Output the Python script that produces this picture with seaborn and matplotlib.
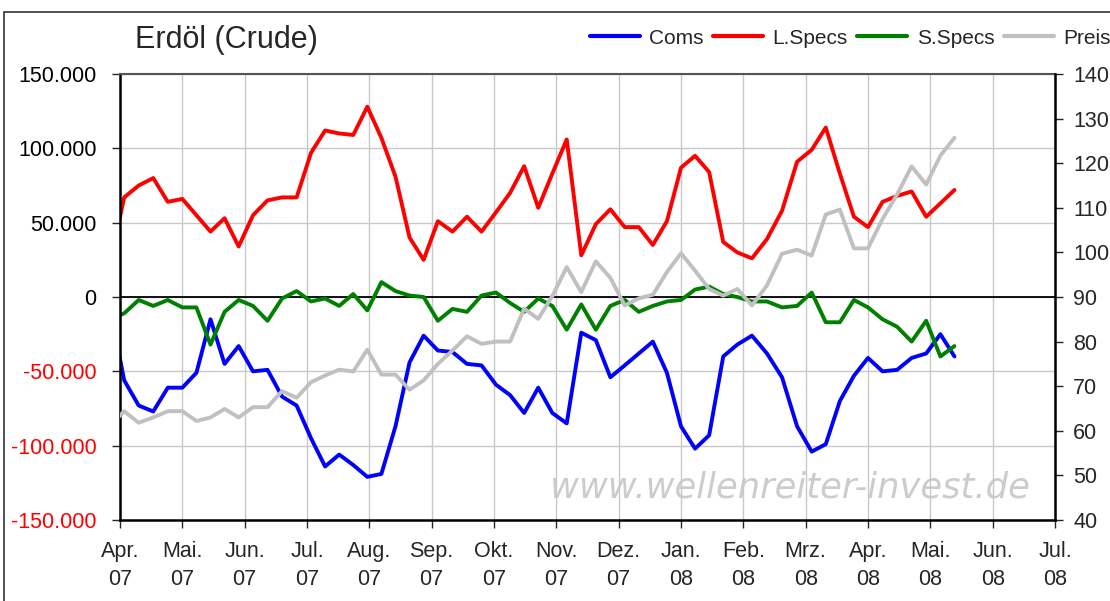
import numpy as np
import pandas as pd
import matplotlib
matplotlib.use("Agg")
import matplotlib.pyplot as plt
import seaborn as sns
from matplotlib.lines import Line2D
from matplotlib.patches import Rectangle

# weekly COT report dates (Tuesdays); the first one lies before the axis start
dates = pd.date_range("2007-03-27", periods=60, freq="7D")

coms = [-7, -56, -73, -77, -61, -61, -51, -15, -45, -33, -50, -49, -67, -73, -95,
        -114, -106, -113, -121, -119, -87, -44, -26, -36, -37, -45, -46, -59, -66, -78,
        -61, -78, -85, -24, -29, -54, -46, -38, -30, -51, -87, -102, -93, -40, -32,
        -26, -38, -54, -87, -104, -99, -70, -53, -41, -50, -49, -41, -38, -25, -40]
lspecs = [22, 67, 75, 80, 64, 66, 55, 44, 53, 34, 55, 65, 67, 67, 97,
          112, 110, 109, 128, 107, 81, 40, 25, 51, 44, 54, 44, 57, 70, 88,
          60, 83, 106, 28, 49, 59, 47, 47, 35, 51, 87, 95, 84, 37, 30,
          26, 39, 58, 91, 99, 114, 83, 54, 47, 64, 68, 71, 54, 63, 72]
sspecs = [-15, -11, -2, -6, -2, -7, -7, -32, -10, -2, -6, -16, -1, 4, -3,
          -1, -6, 2, -9, 10, 4, 1, 0, -16, -8, -10, 1, 3, -4, -10,
          -1, -6, -22, -5, -22, -6, -2, -10, -6, -3, -2, 5, 7, 2, 0,
          -3, -3, -7, -6, 3, -17, -17, -2, -7, -15, -20, -30, -16, -40, -33]
preis = [61, 64.4, 61.8, 63.0, 64.4, 64.4, 62.2, 63.0, 64.9, 63.0, 65.3, 65.3, 68.9, 67.4, 70.9,
         72.4, 73.7, 73.3, 78.2, 72.6, 72.6, 69.2, 71.3, 75.0, 78.0, 81.2, 79.5, 80.0, 80.0, 87.4,
         85.1, 90.2, 96.7, 91.1, 98.0, 94.3, 88.1, 89.7, 90.5, 95.6, 99.8, 95.9, 91.8, 90.3, 91.8,
         88.1, 92.6, 99.7, 100.6, 99.3, 108.5, 109.6, 100.9, 100.9, 107.5, 113, 119.3, 115.2, 121.7, 125.7]

month_names = ["Apr.", "Mai.", "Jun.", "Jul.", "Aug.", "Sep.", "Okt.", "Nov.",
               "Dez.", "Jan.", "Feb.", "Mrz.", "Apr.", "Mai.", "Jun.", "Jul."]
month_years = ["07"] * 9 + ["08"] * 7

df = pd.DataFrame({"date": dates, "Coms": np.array(coms) * 1000,
                   "L.Specs": np.array(lspecs) * 1000,
                   "S.Specs": np.array(sspecs) * 1000, "Preis": preis})
# month axis: every month gets the same width, like the Excel chart
df["x"] = ((df["date"].dt.year - 2007) * 12 + df["date"].dt.month - 4
           + (df["date"].dt.day - 1) / df["date"].dt.days_in_month)

sns.set_style("white")
plt.rcParams["font.family"] = ["Liberation Sans", "DejaVu Sans"]

fig = plt.figure(figsize=(11.1, 6.01), dpi=100)
ax = fig.add_axes([120 / 1110, 1 - 520 / 601, 935 / 1110, 446 / 601])
ax2 = ax.twinx()

colors = {"Coms": "#0000ff", "L.Specs": "#ff0000", "S.Specs": "#008000", "Preis": "#c0c0c0"}
lw = 2.8
for name in ["Coms", "L.Specs", "S.Specs"]:
    sns.lineplot(data=df, x="x", y=name, ax=ax, color=colors[name], lw=lw,
                 sort=False, estimator=None, legend=False)
sns.lineplot(data=df, x="x", y="Preis", ax=ax2, color=colors["Preis"], lw=lw,
             sort=False, estimator=None, legend=False)

ax.set_xlim(0, 15)
ax.set_ylim(-150000, 150000)
ax2.set_ylim(40, 140)
ax.set_xlabel("")
ax.set_ylabel("")
ax2.set_ylabel("")

ax.set_xticks(range(16))
ax.set_xticklabels([f"{m}\n{y}" for m, y in zip(month_names, month_years)],
                   fontsize=15.5, linespacing=1.45)
yt = np.arange(-150000, 150001, 50000)
ax.set_yticks(yt)
ax.set_yticklabels([f"{v:,.0f}".replace(",", ".") for v in yt], fontsize=15.5)
for lab, v in zip(ax.get_yticklabels(), yt):
    lab.set_color("red" if v < 0 else "black")
ax2.set_yticks(np.arange(40, 141, 10))
ax2.set_yticklabels([str(v) for v in range(40, 141, 10)], fontsize=15.5)

ax.tick_params(axis="y", direction="out", length=6, width=1, pad=11, left=True)
ax.tick_params(axis="x", direction="out", length=6, width=1, pad=9, bottom=True)
ax2.tick_params(axis="y", direction="out", length=6, width=1, pad=7, right=True)

ax.grid(True, color="#c8c8c8", lw=1)
ax2.grid(False)
ax.axhline(0, color="black", lw=1.3, zorder=1.5)

for sp in ["left", "bottom"]:
    ax.spines[sp].set_color("black")
    ax.spines[sp].set_linewidth(1.8)
ax.spines["top"].set_color("#555555")
ax.spines["top"].set_linewidth(1.5)
ax2.spines["right"].set_color("black")
ax2.spines["right"].set_linewidth(1.8)
for sp in ["left", "top", "bottom"]:
    ax2.spines[sp].set_visible(False)

ax.text(0.717, 0.073, "www.wellenreiter-invest.de", transform=ax.transAxes,
        ha="center", va="center", fontsize=25.5, style="italic", color="#cccccc",
        family="DejaVu Sans", zorder=0.5)

fig.text(135 / 1110, 1 - 40 / 601, "Erdöl (Crude)", fontsize=22, va="center")

handles = [Line2D([], [], color=colors[n], lw=3) for n in ["Coms", "L.Specs", "S.Specs", "Preis"]]
fig.legend(handles, ["Coms", "L.Specs", "S.Specs", "Preis"], loc="center left",
           bbox_to_anchor=(590 / 1110, 1 - 38 / 601), ncol=4, frameon=False,
           fontsize=15, handlelength=2.4, handletextpad=0.45, columnspacing=0.45,
           borderpad=0, borderaxespad=0)

fig.add_artist(Rectangle((4 / 1110, -0.1), 2, 1.1 - 12 / 601, transform=fig.transFigure,
                         fill=False, ec="#333333", lw=1.2))

fig.savefig("out.png", dpi=100)
